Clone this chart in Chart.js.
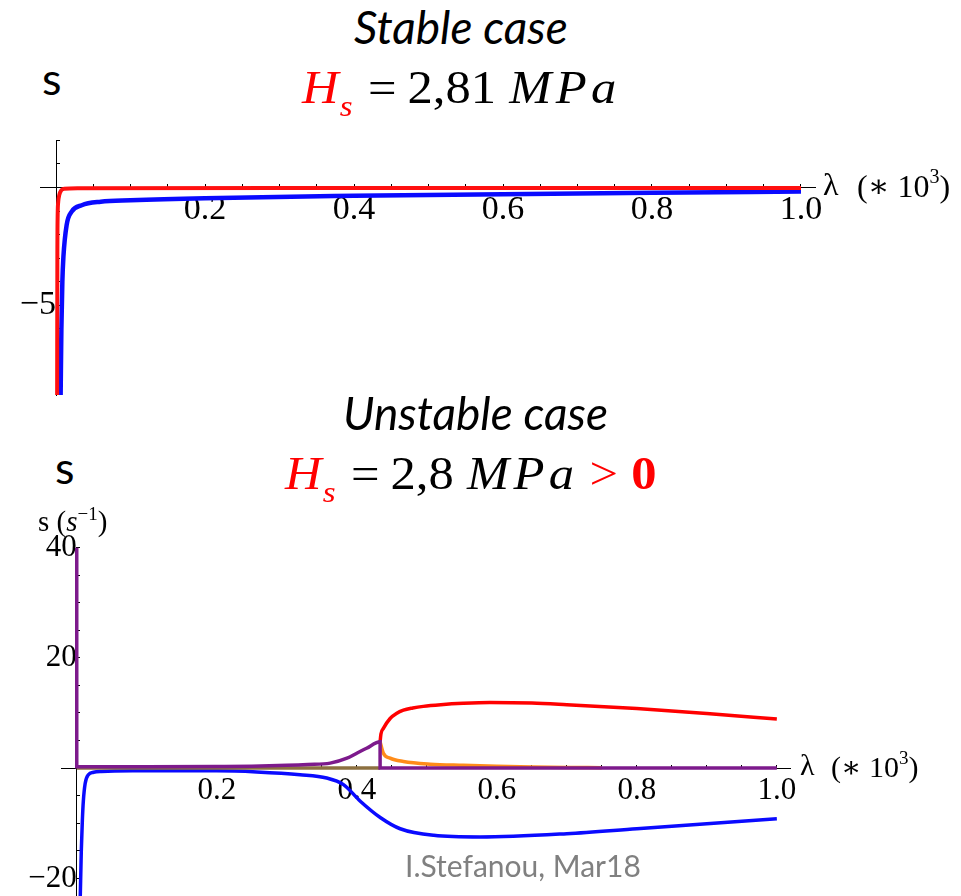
<!DOCTYPE html>
<html><head><meta charset="utf-8">
<script src="https://cdn.jsdelivr.net/npm/chart.js@4/dist/chart.umd.min.js"></script>
<style>
html,body{margin:0;padding:0;background:#fff;width:961px;height:896px;overflow:hidden;}
#wrap{position:relative;width:961px;height:896px;overflow:hidden;}
canvas{position:absolute;left:0;}
.t{position:absolute;white-space:nowrap;line-height:1;z-index:5;}
.sans{font-family:Lato,"Open Sans",sans-serif;}
.serif{font-family:"Liberation Serif","DejaVu Serif",serif;}
.red{color:#ff0000;}
.it{font-style:italic;}
.eq{transform:scaleX(1.1);transform-origin:0 0;}
</style></head><body>
<div id="wrap">
<canvas id="c1" width="961" height="330" style="top:110px;width:961px;height:330px"></canvas>
<canvas id="c2" width="961" height="420" style="top:520px;width:961px;height:420px"></canvas>

<div class="t sans it" style="left:354px;top:4px;font-size:46px">Stable case</div>
<div class="t sans" style="left:42px;top:56px;font-size:45px">s</div>
<div class="t serif eq" style="left:302px;top:65px;font-size:46px"><span class="red it">H</span><span class="red it" style="font-size:30px;position:relative;top:13px;margin-left:1px">s</span><span style="margin-left:14px">=</span><span style="margin-left:10px">2,81</span><span class="it" style="margin-left:12px;letter-spacing:4px">MPa</span></div>

<div class="t sans it" style="left:343px;top:390px;font-size:46px">Unstable case</div>
<div class="t sans" style="left:55px;top:445px;font-size:45px">s</div>
<div class="t serif eq" style="left:285px;top:451px;font-size:46px"><span class="red it">H</span><span class="red it" style="font-size:30px;position:relative;top:13px;margin-left:1px">s</span><span style="margin-left:14px">=</span><span style="margin-left:10px">2,8</span><span class="it" style="margin-left:12px;letter-spacing:4px">MPa</span><span class="red" style="margin-left:10px">&gt;</span><span class="red" style="margin-left:12px;font-weight:bold">0</span></div>

<div class="t serif" style="left:823px;top:168px;font-size:32px">λ</div>
<div class="t serif" style="left:857px;top:170px;font-size:32px">(∗ 10<sup style="font-size:20px;position:relative;top:-4px;vertical-align:top">3</sup>)</div>

<div class="t serif" style="left:800px;top:750px;font-size:30px">λ</div>
<div class="t serif" style="left:831px;top:752px;font-size:30px">(∗ 10<sup style="font-size:19px;position:relative;top:-4px;vertical-align:top">3</sup>)</div>

<div class="t serif" style="left:38px;top:507px;font-size:29px">s (<span class="it">s</span><sup style="font-size:19px;vertical-align:top;position:relative;top:-3px">−1</sup>)</div>

<div class="t sans" style="left:405px;top:850px;font-size:30px;color:#808080">I.Stefanou, Mar18</div>
</div>
<script>
// ---- axis ticks ----
const xTickValues = [0.05,0.1,0.15,0.2,0.25,0.3,0.35,0.4,0.45,0.5,0.55,0.6,0.65,0.7,0.75,0.8,0.85,0.9,0.95,1.0];
const xLabelValues = [0.2,0.4,0.6,0.8,1.0];
const stableYTickValues = [-8,-7,-6,-5,-4,-3,-2,-1,1,2];
const stableYLabelValues = [-5];
const unstableYTickValues = [-20,-15,-10,-5,5,10,15,20,25,30,35,40];
const unstableYLabelValues = [-20,20,40];

// ---- stable case (H_s = 2,81 MPa) ----
const stableRedX = [0.0015,0.0018,0.0022,0.003,0.0045,0.007,0.011,0.03,0.3,1.0];
const stableRedY = [-8.8,-3.0,-1.2,-0.6,-0.3,-0.12,-0.05,-0.03,-0.02,-0.02];
const stableBlueX = [0.0062,0.0072,0.0085,0.0099,0.0143,0.021,0.0345,0.06,0.1,0.2,0.4,0.6,0.8,1.0];
const stableBlueY = [-8.8,-6.0,-4.0,-2.95,-1.58,-1.02,-0.75,-0.6,-0.54,-0.45,-0.35,-0.28,-0.22,-0.17];

// ---- unstable case (H_s = 2,8 MPa) ----
const unstableBlueX = [0.005,0.0065,0.008,0.0094,0.012,0.0166,0.024,0.035,0.08,0.2,0.257,0.319,0.357,0.381,0.405,0.434,0.462,0.51,0.576,0.7,0.8,0.9,1.0];
const unstableBlueY = [-23.5,-15,-9.5,-6,-2.8,-1.2,-0.75,-0.6,-0.5,-0.5,-0.7,-1.2,-1.8,-3.0,-6.0,-9.0,-11.0,-12.2,-12.5,-11.9,-11.0,-10.1,-9.2];
const unstableRedX = [0.4333,0.4345,0.438,0.4476,0.4566,0.4666,0.48,0.495,0.52,0.552,0.59,0.65,0.7,0.8,0.9,1.0];
const unstableRedY = [4.78,6.2,7.2,9.0,9.9,10.5,10.9,11.2,11.5,11.75,11.9,11.8,11.5,10.8,9.9,8.9];
const unstableOrangeX = [0,0.4333,null,0.4333,0.438,0.4476,0.4666,0.5048,0.552,0.6,0.65,0.7,0.75];
const unstableOrangeY = [0,0,null,4.78,2.7,1.8,1.2,0.72,0.5,0.32,0.2,0.12,0.08];
const unstablePurpleX = [0,0,0.003,0.1,0.2,0.25,0.3,0.33,0.362,0.386,0.4,0.414,0.4333,0.4333,1.0];
const unstablePurpleY = [40,0.25,0.25,0.25,0.3,0.35,0.5,0.65,0.9,1.8,2.7,3.6,4.78,0,0];

const zip = (xs, ys) => xs.map((x, i) => ({x: x === null ? NaN : x, y: ys[i]}));
const fmt = v => (v < 0 ? '\u2212' + Math.abs(v) : String(v));
const near = (arr, v) => arr.some(a => Math.abs(a - v) < 1e-9);

function xAxis(size, padding) {
  return {
    type: 'linear', min: -0.0215, max: 1.0188, position: {y: 0}, z: 1,
    grid: {drawOnChartArea: false, drawTicks: true, tickLength: -4, tickColor: '#000', tickWidth: 1},
    border: {display: true, color: '#000', width: 1},
    ticks: {autoSkip: false, maxRotation: 0, minRotation: 0, padding: padding, color: '#000',
      font: {family: 'Liberation Serif', size: size},
      callback: v => near(xLabelValues, v) ? v.toFixed(1) : ''},
    afterBuildTicks: a => { a.ticks = xTickValues.map(v => ({value: v})); }
  };
}
function yAxis(min, max, tickVals, labelVals, size, padding) {
  return {
    type: 'linear', min: min, max: max, position: {x: 0}, z: 1,
    grid: {drawOnChartArea: false, drawTicks: true, tickLength: -4, tickColor: '#000', tickWidth: 1},
    border: {display: true, color: '#000', width: 1},
    ticks: {autoSkip: false, padding: padding, color: '#000',
      font: {family: 'Liberation Serif', size: size},
      callback: v => near(labelVals, v) ? fmt(v) : ''},
    afterBuildTicks: a => { a.ticks = tickVals.map(v => ({value: v})); }
  };
}
const lineDs = (data, color, width, order, extra) => Object.assign({
  data: data, borderColor: color, borderWidth: width, pointRadius: 0, showLine: true,
  cubicInterpolationMode: 'monotone', fill: false, order: order, spanGaps: false
}, extra || {});

const common = {
  responsive: false, animation: false, events: [],
  plugins: {legend: {display: false}, tooltip: {enabled: false}, title: {display: false}}
};

// place the axis ranges exactly where the reference has them (canvas coordinates)
function fitScales(chart, want) {
  for (let k = 0; k < 5; k++) {
    const xs = chart.scales.x, ys = chart.scales.y, p = chart.config.options.layout.padding;
    const l = xs.getPixelForValue(xs.min), r = xs.getPixelForValue(xs.max);
    const t = ys.getPixelForValue(ys.max), b = ys.getPixelForValue(ys.min);
    p.left += want.left - l;
    p.right += r - want.right;
    p.top += want.top - t;
    p.bottom += b - want.bottom;
    chart.update();
  }
}

const chart1 = new Chart(document.getElementById('c1'), {
  type: 'scatter',
  data: {datasets: [
    lineDs(zip(stableRedX, stableRedY), '#ff1010', 4, 1),
    lineDs(zip(stableBlueX, stableBlueY), '#0a0aff', 4.5, 2)
  ]},
  options: Object.assign({}, common, {
    layout: {autoPadding: false, padding: {left: 40, right: 146, top: 24, bottom: 45}},
    scales: {
      x: xAxis(34, 6),
      y: yAxis(-8.8, 2.0, stableYTickValues, stableYLabelValues, 34, 10)
    }
  })
});
fitScales(chart1, {left: 40, right: 815, top: 24, bottom: 285});

const chart2 = new Chart(document.getElementById('c2'), {
  type: 'scatter',
  data: {datasets: [
    lineDs(zip(unstablePurpleX, unstablePurpleY), '#7d1a8c', 3.5, 2),
    lineDs(zip(unstableOrangeX, unstableOrangeY), '#ff8c1a', 3.5, 3, {
      segment: {borderColor: c => (c.p0.parsed.y === 0 && c.p1.parsed.y === 0 ? '#8c7040' : undefined)}
    }),
    lineDs(zip(unstableRedX, unstableRedY), '#ff0000', 3.5, 4),
    lineDs(zip(unstableBlueX, unstableBlueY), '#0a0aff', 3.5, 5)
  ]},
  options: Object.assign({}, common, {
    layout: {autoPadding: false, padding: {left: 61.7, right: 171, top: 21.7, bottom: 44}},
    scales: {
      x: xAxis(31, 8),
      y: yAxis(-23.2, 40, unstableYTickValues, unstableYLabelValues, 31, 9)
    }
  })
});
fitScales(chart2, {left: 61.7, right: 790, top: 21.7, bottom: 376});
</script>
</body></html>
